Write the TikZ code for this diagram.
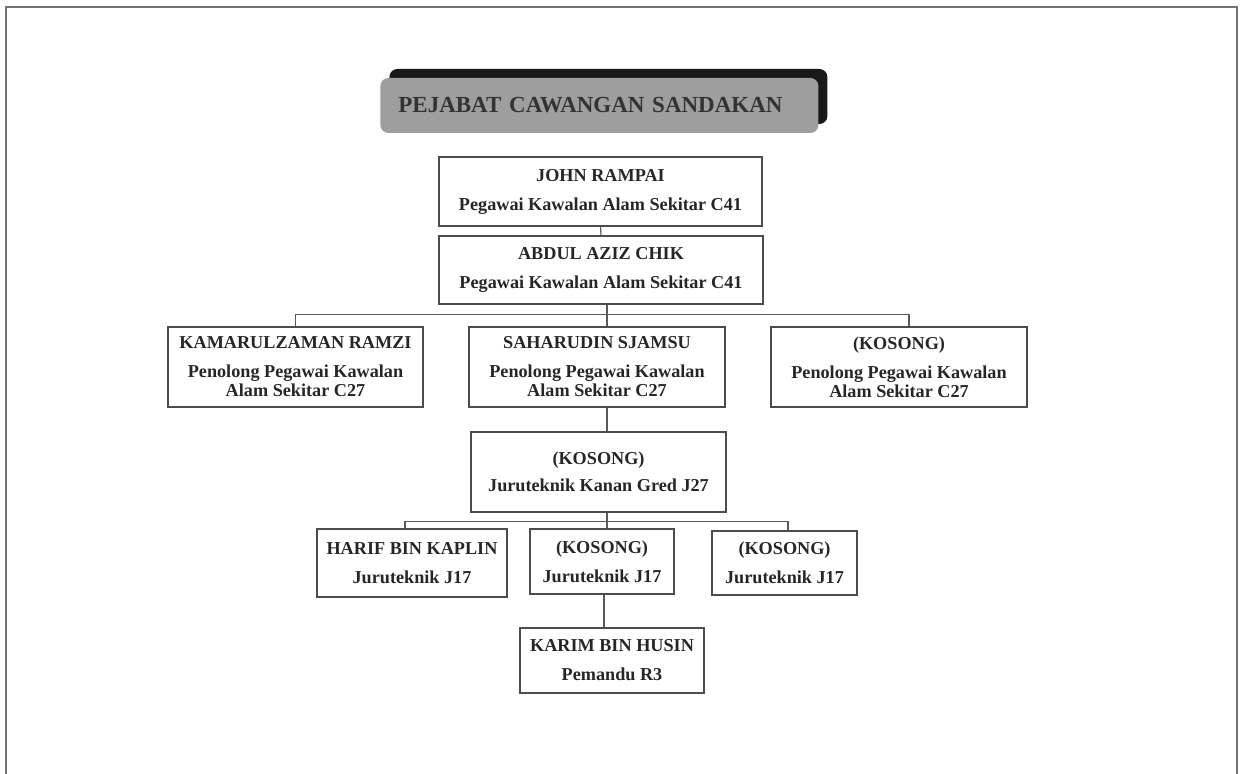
\documentclass[tikz,border=0pt]{standalone}
\usepackage{fontspec}
\setmainfont{Liberation Serif}
\usepackage{tikz}
\usetikzlibrary{positioning,shadows}

\tikzset{
  staff/.style={draw=black!70,line width=0.6pt,align=center,inner sep=0pt,
    font=\fontsize{9.1}{9.5}\selectfont\bfseries,text=black!85},
  link/.style={black!65,line width=0.6pt},
}

\begin{document}
\begin{tikzpicture}[x=0.5pt,y=-0.5pt]
\useasboundingbox (0,0) rectangle (1240,774);
\draw[black!55,line width=0.8pt] (6,774) -- (6,7) -- (1237,7) -- (1237,774);
% title
\node[fill=black!38,rounded corners=4pt,anchor=west,inner xsep=9pt,text width=201pt,
  minimum height=27.5pt,align=left,text=black!80,
  font=\fontsize{11.5}{12}\selectfont\bfseries,
  drop shadow={shadow xshift=4.5pt,shadow yshift=4.5pt,fill=black!90,opacity=1}]
  (title) at (380,105.5) {PEJABAT CAWANGAN SANDAKAN};
% staff
\node[staff,minimum width=161.5pt,minimum height=34.5pt] (john) at (600.5,191.5)
  {JOHN RAMPAI\\[5pt]Pegawai Kawalan Alam Sekitar C41};
\node[staff,minimum width=162pt,minimum height=34pt] (abdul) at (601,270)
  {ABDUL AZIZ CHIK\\[5pt]Pegawai Kawalan Alam Sekitar C41};
\node[staff,minimum width=127.5pt,minimum height=40pt] (kamarul) at (295.5,367)
  {KAMARULZAMAN RAMZI\\[5pt]Penolong Pegawai Kawalan\\Alam Sekitar C27};
\node[staff,minimum width=128pt,minimum height=40pt] (sahar) at (597,367)
  {SAHARUDIN SJAMSU\\[5pt]Penolong Pegawai Kawalan\\Alam Sekitar C27};
\node[staff,minimum width=128pt,minimum height=40pt] (kosongA) at (899,367)
  {(KOSONG)\\[5pt]Penolong Pegawai Kawalan\\Alam Sekitar C27};
\node[staff,minimum width=127.5pt,minimum height=40pt] (kanan) at (598.5,472)
  {(KOSONG)\\[4pt]Juruteknik Kanan Gred J27};
\node[staff,minimum width=95pt,minimum height=34pt] (harif) at (412,563)
  {HARIF BIN KAPLIN\\[5pt]Juruteknik J17};
\node[staff,minimum width=72pt,minimum height=32.5pt] (kosongB) at (602,561.5)
  {(KOSONG)\\[5pt]Juruteknik J17};
\node[staff,minimum width=72.5pt,minimum height=32pt] (kosongC) at (784.5,563)
  {(KOSONG)\\[5pt]Juruteknik J17};
\node[staff,minimum width=92pt,minimum height=32.5pt] (karim) at (612,660.5)
  {KARIM BIN HUSIN\\[5pt]Pemandu R3};
% links
\draw[link] (john.south) -- (abdul.north);
\draw[link] ([xshift=3pt]abdul.south) -- ++(0,10) -| (kamarul.north);
\draw[link] ([xshift=3pt]abdul.south) -- ++(0,10) -| ([xshift=5pt]kosongA.north);
\draw[link] ([xshift=3pt]abdul.south) -- ([xshift=5pt]sahar.north);
\draw[link] ([xshift=5pt]sahar.south) -- ([xshift=4.25pt]kanan.north);
\draw[link] ([xshift=4.25pt]kanan.south) -- ++(0,9) -| ([xshift=-3.5pt]harif.north);
\draw[link] ([xshift=4.25pt]kanan.south) -- ++(0,9) -| ([xshift=1.75pt]kosongC.north);
\draw[link] ([xshift=4.25pt]kanan.south) -- ([xshift=2.5pt]kosongB.north);
\draw[link] ([xshift=1pt]kosongB.south) -- ([xshift=-4pt]karim.north);
\end{tikzpicture}
\end{document}
